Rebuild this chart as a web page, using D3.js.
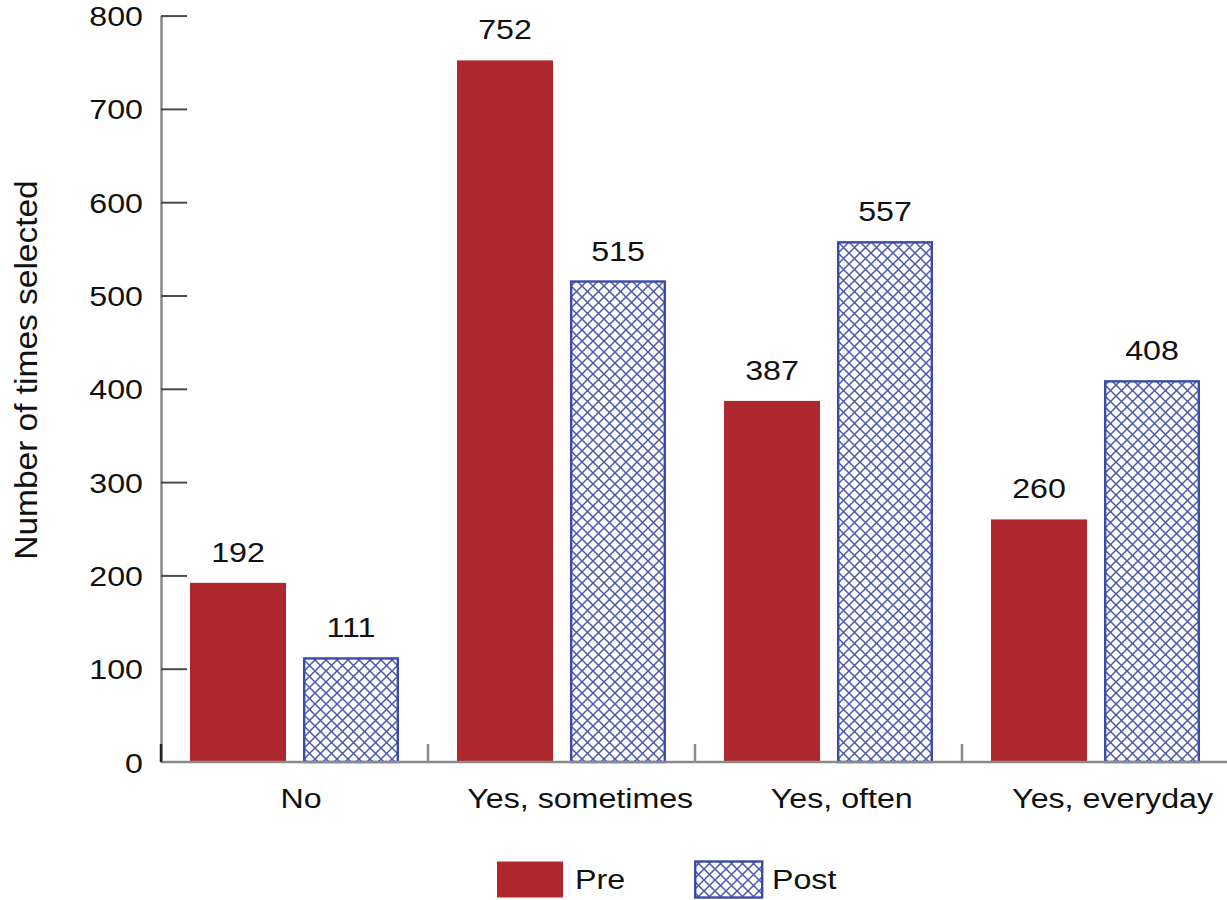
<!DOCTYPE html>
<html>
<head>
<meta charset="utf-8">
<script src="https://cdn.jsdelivr.net/npm/d3@7"></script>
<style>
  html, body { margin: 0; padding: 0; background: #fff; }
  svg { display: block; font-family: "Liberation Sans", Arial, Helvetica, sans-serif; }
</style>
</head>
<body>
<svg id="chart" width="1227" height="900"></svg>
<script>
// Responses per category, before and after
const categories = ["No", "Yes, sometimes", "Yes, often", "Yes, everyday"];
const seriesNames = ["Pre", "Post"];
const preValues = [192, 752, 387, 260];
const postValues = [111, 515, 557, 408];
const yTicks = [0, 100, 200, 300, 400, 500, 600, 700, 800];
const yTitle = "Number of times selected";

const W = 1227, H = 900;
const plotLeft = 161, plotRight = 1229, plotTop = 15.6, plotBottom = 762;
const svg = d3.select("#chart");

const red = "#b0282f";
const blue = "#3d4aa6";
const axisGrey = "#8a8a8a";
const sx = 1.15; // horizontal stretch of all lettering
const fontSize = 28;

// Cross-hatch fill for the "Post" series
const P = 11;
const defs = svg.append("defs");
const pat = defs.append("pattern")
  .attr("id", "xhatch")
  .attr("patternUnits", "userSpaceOnUse")
  .attr("width", P).attr("height", P);
pat.append("rect").attr("width", P).attr("height", P).attr("fill", "#fff");
pat.append("path")
  .attr("d", `M0,0L${P},${P}M0,${P}L${P},0M-1,1L1,-1M${P - 1},${P + 1}L${P + 1},${P - 1}`)
  .attr("stroke", "#4a58b0").attr("stroke-width", 1.5).attr("fill", "none");

const x = d3.scaleBand().domain(categories).range([plotLeft, plotRight]).padding(0);
const xs = d3.scaleBand().domain(seriesNames).range([29, 238]).paddingInner(0.15).paddingOuter(0);
const y = d3.scaleLinear().domain([0, 800]).range([plotBottom, plotTop]);

const rows = categories.map((c, i) => ({ cat: c, vals: [
  { s: "Pre", v: preValues[i] }, { s: "Post", v: postValues[i] }] }));

// Text helper with the slight horizontal stretch
function label(g, tx, ty, str, size, anchor) {
  return g.append("text")
    .attr("transform", `translate(${tx},${ty}) scale(${sx},1)`)
    .attr("text-anchor", anchor || "middle")
    .attr("font-size", size)
    .attr("fill", "#111")
    .text(str);
}

// Bars
const groups = svg.append("g").selectAll("g").data(rows).join("g")
  .attr("transform", d => `translate(${x(d.cat)},0)`);

groups.selectAll("rect").data(d => d.vals).join("rect")
  .attr("x", d => xs(d.s) + (d.s === "Post" ? 1.2 : 0))
  .attr("width", d => xs.bandwidth() - (d.s === "Post" ? 2.4 : 0))
  .attr("y", d => y(d.v))
  .attr("height", d => y(0) - y(d.v))
  .attr("fill", d => d.s === "Pre" ? red : "url(#xhatch)")
  .attr("stroke", d => d.s === "Pre" ? "none" : blue)
  .attr("stroke-width", 2.4);

// Value labels above bars
groups.each(function(d) {
  const g = d3.select(this);
  d.vals.forEach(v => {
    label(g, xs(v.s) + xs.bandwidth() / 2, y(v.v) - 21, String(v.v), fontSize);
  });
});

// Y axis: line, inward ticks, labels
const yAxis = d3.axisLeft(y).tickValues(yTicks).tickSize(0).tickFormat("");
const yg = svg.append("g").attr("transform", `translate(${plotLeft},0)`).call(yAxis);
yg.select(".domain").attr("stroke", axisGrey).attr("stroke-width", 2.5);
yg.selectAll(".tick").each(function(t) {
  const tk = d3.select(this);
  if (t > 0) {
    tk.append("line").attr("x1", 0).attr("x2", 26)
      .attr("stroke", "#4a4a4a").attr("stroke-width", 2);
  }
  tk.append("text")
    .attr("transform", `translate(-18,10) scale(${sx},1)`)
    .attr("text-anchor", "end")
    .attr("font-size", fontSize)
    .attr("fill", "#111")
    .text(t);
});

// X axis: baseline with boundary ticks between categories
const xg = svg.append("g");
xg.append("line").attr("x1", plotLeft).attr("x2", W).attr("y1", plotBottom).attr("y2", plotBottom)
  .attr("stroke", axisGrey).attr("stroke-width", 2.5);
const bounds = categories.map(c => x(c)).concat([x(categories[categories.length - 1]) + x.bandwidth()]);
xg.selectAll("line.bound").data(bounds).join("line")
  .attr("class", "bound")
  .attr("x1", d => d).attr("x2", d => d)
  .attr("y1", plotBottom - 18).attr("y2", plotBottom)
  .attr("stroke", (d, i) => i === 0 ? "#222" : axisGrey)
  .attr("stroke-width", 2.5);

// Category names: laid out from their unstretched start, then widened
categories.forEach(c => {
  const t = label(svg, 0, 808, c, fontSize, "start");
  const w = t.node().getComputedTextLength();
  const cx = x(c) + x.bandwidth() / 2 + 4;
  t.attr("transform", `translate(${cx - w / 2},808) scale(${sx},1)`);
});

// Y axis title
svg.append("text")
  .attr("transform", `translate(37,370) rotate(-90) scale(1.08,1)`)
  .attr("text-anchor", "middle")
  .attr("font-size", 31)
  .attr("fill", "#111")
  .text(yTitle);

// Legend
const legend = svg.append("g");
const legendItems = [
  { name: "Pre", x: 497, fill: red, stroke: "none" },
  { name: "Post", x: 694, fill: "url(#xhatch)", stroke: blue }
];
legendItems.forEach(it => {
  legend.append("rect")
    .attr("x", it.x + (it.stroke === "none" ? 0 : 1.2)).attr("y", 861.5)
    .attr("width", it.stroke === "none" ? 66 : 67).attr("height", 36)
    .attr("fill", it.fill).attr("stroke", it.stroke).attr("stroke-width", 2.4);
  label(legend, it.x + 78, 889, it.name, fontSize, "start");
});
</script>
</body>
</html>
